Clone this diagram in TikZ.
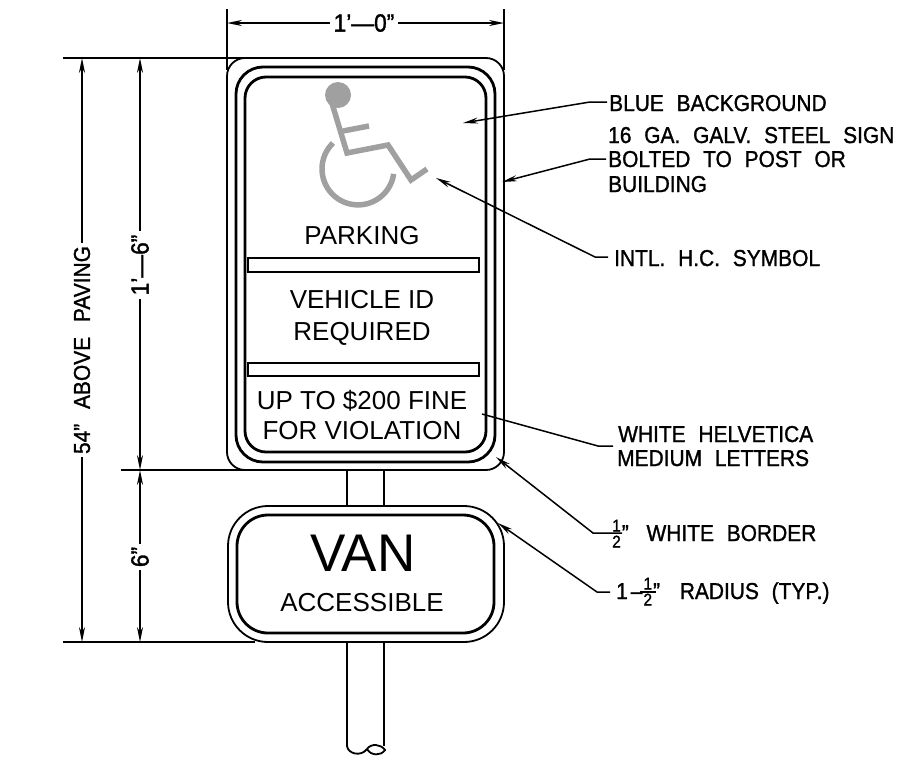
\documentclass[tikz,border=0pt]{standalone}
\usepackage{xcolor}
\usepackage{fontspec}
\usetikzlibrary{arrows.meta}
\setmainfont{Liberation Sans}
\newfontfamily\notefont[WordSpace=2.2,FakeBold=1.2,FakeStretch=0.91]{Liberation Sans}
\definecolor{SymbolGray}{RGB}{160,160,160}
\newcommand{\halfmark}{\rlap{\raisebox{9.5pt}{\fontsize{17}{17}\selectfont 1}}\raisebox{-6.5pt}{\fontsize{17}{17}\selectfont 2}}
\tikzset{
    signline/.style={line width=2.8pt},
    thinline/.style={line width=1.8pt},
    dimline/.style={line width=1.5pt,{Stealth[length=15pt,width=6pt]}-},
    leader/.style={line width=1.5pt,-{Stealth[length=15pt,width=6pt]}},
    signtext/.style={font=\fontsize{26}{26}\selectfont,anchor=base},
    dimtext/.style={font=\notefont\fontsize{25}{25}\selectfont,inner sep=3pt},
    notetext/.style={font=\notefont\fontsize{23}{23}\selectfont,anchor=base west,inner sep=0pt},
    symbol/.style={draw=SymbolGray,line width=5.5pt,line join=miter}
}
\begin{document}
\begin{tikzpicture}[x=1pt,y=-1pt]
    \useasboundingbox (0,0) rectangle (901,761);
    % Upper sign plate
    \draw[thinline,rounded corners=18pt] (227,58) rectangle (504,470);
    \draw[signline,rounded corners=27pt] (236,67) rectangle (495,462);
    \draw[signline,rounded corners=21pt] (245,77) rectangle (486,452);
    \draw[signline] (248,258) rectangle (479,272);
    \draw[signline] (248,363) rectangle (479,376);

    % Post
    \draw[thinline] (347,470) -- (347,506);
    \draw[thinline] (384,470) -- (384,506);
    \draw[thinline] (347,642) -- (347,746) .. controls (348,754) and (361,757) .. (367,749);
    \draw[thinline] (384,642) -- (384,746);
    \draw[thinline] (367,749) .. controls (371,743) and (381,744) .. (385,750) .. controls (381,756) and (371,756) .. (367,749);

    % Lower sign plate
    \draw[thinline,rounded corners=40pt] (228,506) rectangle (504,642);
    \draw[signline,rounded corners=31pt] (237,515) rectangle (494,633);

    % Symbol
    \fill[SymbolGray] (338,95) circle (13pt);
    \draw[symbol] (331,100) -- (347,153) -- (388,145) -- (411,180) -- (427,169);
    \draw[symbol] (343,131) -- (369,126);
    \draw[symbol] (333,143) arc (134:352:36pt);

    % Sign texts
    \node[signtext] (parking) at (362,244) {PARKING};
    \node[signtext] (vehicle) at (362,308) {VEHICLE ID};
    \node[signtext] (required) at (362,340) {REQUIRED};
    \node[signtext] (fine) at (362,409) {UP TO \$200 FINE};
    \node[signtext] (violation) at (362,439) {FOR VIOLATION};
    \node[signtext,font=\fontsize{53}{53}\selectfont] (van) at (363,571) {VAN};
    \node[signtext] (accessible) at (362,611) {ACCESSIBLE};

    % Extension lines
    \draw[thinline] (227,9) -- (227,70);
    \draw[thinline] (504,9) -- (504,70);
    \draw[thinline] (63,58) -- (245,58);
    \draw[thinline] (121,470) -- (245,470);
    \draw[thinline] (63,642) -- (255,642);

    % Dimensions
    \coordinate (widthl) at (227,23);
    \coordinate (widthr) at (504,23);
    \coordinate (farttop) at (82,58);
    \coordinate (fartbot) at (82,642);
    \coordinate (neartop) at (140,58);
    \coordinate (nearmid) at (140,470);
    \coordinate (nearbot) at (140,642);
    \node[dimtext] (width) at (364,23) {1’—0”};
    \node[dimtext,rotate=90,font=\notefont\fontsize{23}{23}\selectfont] (above) at (82,350) {54”\kern2pt\ ABOVE\kern2pt\ PAVING};
    \node[dimtext,rotate=90] (upper) at (140,265) {1’—6”};
    \node[dimtext,rotate=90] (lower) at (140,557) {6”};
    \draw[dimline] (widthl) -- (width);
    \draw[dimline] (widthr) -- (width);
    \draw[dimline] (farttop) -- (above);
    \draw[dimline] (fartbot) -- (above);
    \draw[dimline] (neartop) -- (upper);
    \draw[dimline] (nearmid) -- (upper);
    \draw[dimline] (nearmid) -- (lower);
    \draw[dimline] (nearbot) -- (lower);

    % Notes
    \node[notetext] (blue) at (609,111) {BLUE BACKGROUND};
    \node[notetext] (gauge) at (608,143) {16 GA. GALV. STEEL SIGN};
    \node[notetext] (bolted) at (608,167) {BOLTED TO POST OR};
    \node[notetext] (building) at (608,192) {BUILDING};
    \node[notetext] (intl) at (614,266) {INTL. H.C. SYMBOL};
    \node[notetext] (white) at (618,442) {WHITE HELVETICA};
    \node[notetext] (medium) at (617,466) {MEDIUM LETTERS};
    \node[notetext] (border) at (612,541) {\halfmark\kern1pt”\kern5pt\ WHITE BORDER};
    \node[notetext] (radius) at (616,599) {1\kern3pt–\kern1pt\halfmark\kern1pt”\kern7pt\ RADIUS (TYP.)};

    % Leaders
    \draw[leader] (607,102) -- (590,102) -- (463,123);
    \draw[leader] (606,159) -- (590,159) -- (502,182);
    \draw[leader] (608,257) -- (595,257) -- (436,178);
    \draw[line width=1.5pt] (613,446) -- (598,446) -- (482,414);
    \draw[leader] (622,533) -- (593,533) -- (496,457);
    \draw[leader] (610,592) -- (597,592) -- (498,523);
    \draw[line width=1.5pt] (640,592) -- (656,592);
\end{tikzpicture}
\end{document}
